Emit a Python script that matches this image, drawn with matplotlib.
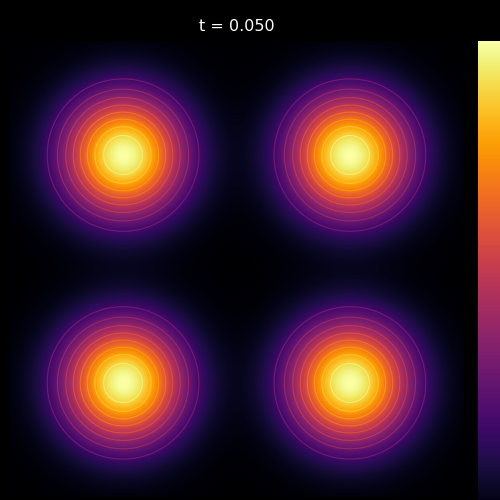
import numpy as np
import matplotlib
matplotlib.use("Agg")
import matplotlib.pyplot as plt
from matplotlib.colors import Normalize

# blob parameters (data domain is the unit square)
xCenters = [0.25, 0.75, 0.25, 0.75]
yCenters = [0.75, 0.75, 0.25, 0.25]
amplitudes = [1.0, 1.0, 1.0, 1.0]
sigma = 0.093
contourLevels = [0.2, 0.3, 0.4, 0.5, 0.6, 0.7, 0.8, 0.9]
timeLabel = "t = 0.050"

nGrid = 256
x = np.linspace(0, 1, nGrid)
y = np.linspace(0, 1, nGrid)
X, Y = np.meshgrid(x, y)
field = np.zeros_like(X)
for xc, yc, amp in zip(xCenters, yCenters, amplitudes):
    field += amp * np.exp(-((X - xc)**2 + (Y - yc)**2) / (2 * sigma**2))

fig = plt.figure(figsize=(5, 5), dpi=100, facecolor="black")
ax = fig.add_axes([0.019, 0.006, 0.908, 0.912])
ax.set_facecolor("black")
im = ax.imshow(field, cmap="inferno", origin="lower", extent=[0, 1, 0, 1],
               aspect="auto", vmin=0, vmax=field.max())
ax.contour(X, Y, field, levels=contourLevels, cmap="inferno",
           norm=Normalize(vmin=-0.156, vmax=0.955), linewidths=0.8)
ax.set_axis_off()
ax.set_title(timeLabel, color="white", fontsize=11.5, pad=7)

# colorbar runs off the right and bottom edges, so its ticks are not seen
cax = fig.add_axes([0.956, -0.038, 0.1, 0.956])
cb = fig.colorbar(im, cax=cax)
cb.outline.set_visible(False)
cb.set_ticks([])

fig.savefig("out.png", dpi=100, facecolor="black")
